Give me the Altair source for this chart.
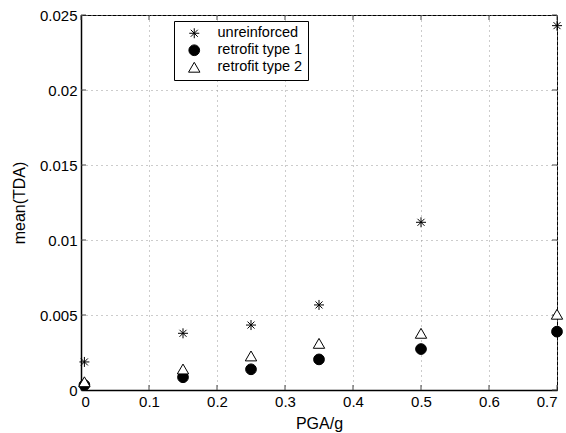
import altair as alt
import pandas as pd

# ---- data ----
pga = [0.005, 0.15, 0.25, 0.35, 0.5, 0.7]
unreinforced = [0.00187, 0.00378, 0.00433, 0.00567, 0.01118, 0.02429]
retrofit_1 = [0.00033, 0.00085, 0.00138, 0.00204, 0.00273, 0.00389]
retrofit_2 = [0.00055, 0.00140, 0.00227, 0.00311, 0.00378, 0.00505]
series_names = ["unreinforced", "retrofit type 1", "retrofit type 2"]
x_ticks = [0, 0.1, 0.2, 0.3, 0.4, 0.5, 0.6, 0.7]
y_ticks = [0, 0.005, 0.01, 0.015, 0.02, 0.025]

rows = []
for name, vals in zip(series_names, [unreinforced, retrofit_1, retrofit_2]):
    for x, y in zip(pga, vals):
        rows.append({"PGA": x, "TDA": y, "series": name})
df = pd.DataFrame(rows)
xt = pd.DataFrame({"PGA": x_ticks})
yt = pd.DataFrame({"TDA": y_ticks})

FONT = "Liberation Sans"
STAR = "M-1,0L1,0M0,-1L0,1M-0.7,-0.7L0.7,0.7M-0.7,0.7L0.7,-0.7"
W, H = 476, 375
TL = 5

xscale = alt.Scale(domain=[0, 0.7], nice=False, zero=False)
yscale = alt.Scale(domain=[0, 0.025], nice=False)

x_axis = alt.Axis(values=x_ticks, format="~g", titleX=W / 2, titleY=33,
                  titleAlign="center", titleBaseline="middle")
y_axis = alt.Axis(values=y_ticks, format="~g", titleX=-62, titleY=H / 2,
                  titleAngle=-90, titleAlign="center", titleBaseline="middle")

legend = alt.Legend(orient="none", legendX=93, legendY=6, title=None,
                    strokeColor="black", fillColor="white", padding=5,
                    labelFont=FONT, labelFontSize=14.5, labelColor="black",
                    rowPadding=1, symbolStrokeWidth=1,
                    symbolOffset=8, labelOffset=16, cornerRadius=0)

points = alt.Chart(df).mark_point(opacity=1, fillOpacity=1,
                                  strokeWidth=1).encode(
    x=alt.X("PGA:Q", scale=xscale, axis=x_axis, title="PGA/g"),
    y=alt.Y("TDA:Q", scale=yscale, axis=y_axis, title="mean(TDA)"),
    shape=alt.Shape("series:N", scale=alt.Scale(domain=series_names,
                    range=[STAR, "circle", "triangle-up"]), legend=legend),
    fill=alt.Fill("series:N", scale=alt.Scale(domain=series_names,
                  range=["white", "black", "white"]), legend=legend),
    stroke=alt.Stroke("series:N", scale=alt.Scale(domain=series_names,
                      range=["black", "black", "black"]), legend=legend),
    size=alt.Size("series:N", scale=alt.Scale(domain=series_names,
                  range=[100, 130, 160]), legend=legend),
)

tick_style = dict(color="#444", strokeWidth=1)
bottom_ticks = alt.Chart(xt).mark_rule(**tick_style).encode(
    x=alt.X("PGA:Q", scale=xscale), y=alt.value(H - TL), y2=alt.value(H))
top_ticks = alt.Chart(xt).mark_rule(**tick_style).encode(
    x=alt.X("PGA:Q", scale=xscale), y=alt.value(0), y2=alt.value(TL))
left_ticks = alt.Chart(yt).mark_rule(**tick_style).encode(
    y=alt.Y("TDA:Q", scale=yscale), x=alt.value(0), x2=alt.value(TL))
right_ticks = alt.Chart(yt).mark_rule(**tick_style).encode(
    y=alt.Y("TDA:Q", scale=yscale), x=alt.value(W - TL), x2=alt.value(W))

chart = alt.layer(bottom_ticks, top_ticks, left_ticks, right_ticks, points).properties(
    width=W, height=H,
    padding={"left": 81, "top": 15, "right": 9, "bottom": 43},
    autosize=alt.AutoSizeParams(type="none"),
    background="white",
).configure_view(
    stroke="black", strokeWidth=1
).configure_axis(
    grid=True, gridDash=[1, 4], gridColor="#999", gridWidth=1,
    tickSize=0, domainColor="black", domainWidth=1.5,
    labelFont=FONT, labelFontSize=15, labelColor="black", labelPadding=4,
    titleFont=FONT, titleFontSize=16, titleFontWeight="normal", titleColor="black",
)

chart.save("out.html", embed_options={"renderer": "svg", "actions": False})
